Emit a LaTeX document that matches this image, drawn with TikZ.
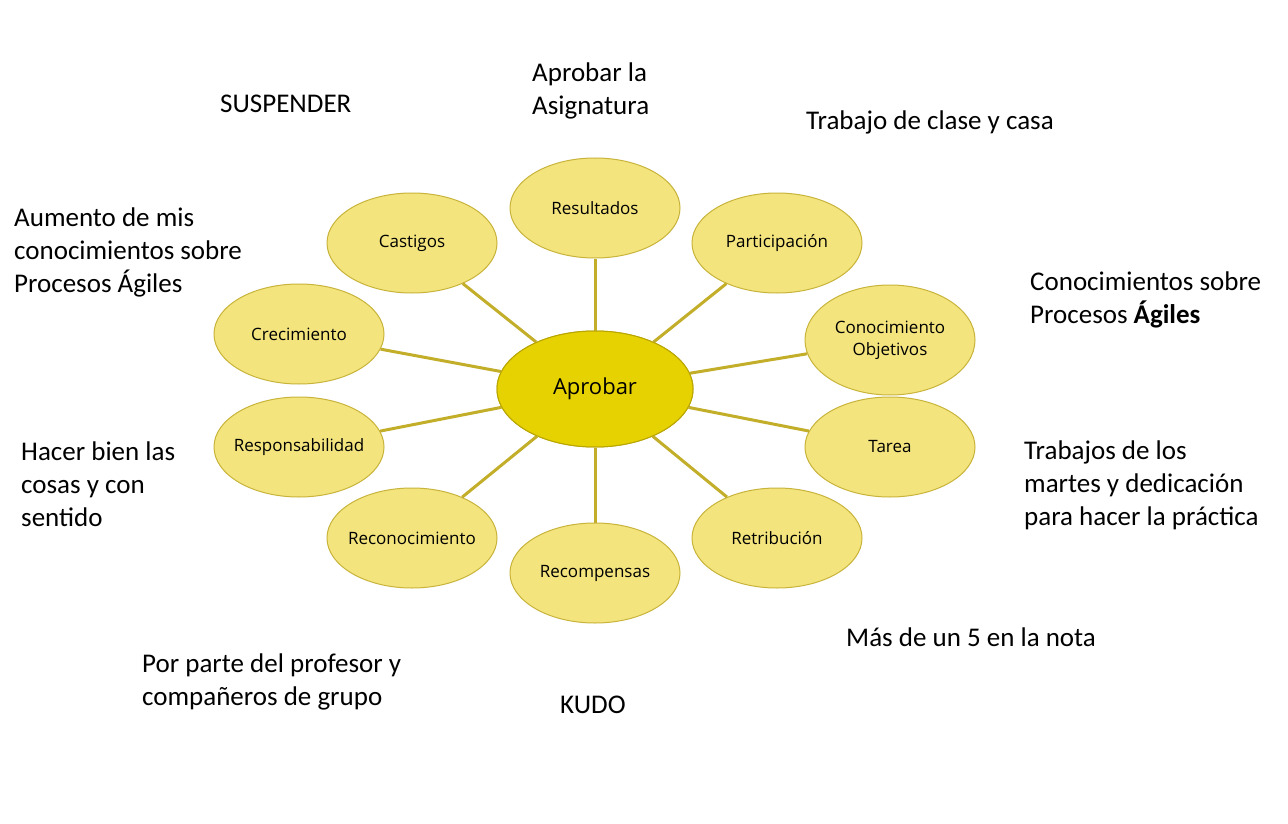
\documentclass[tikz,border=0pt]{standalone}
\usepackage{fontspec}
\setmainfont{Carlito}
\newfontfamily\nodefont{Open Sans}
\usetikzlibrary{shapes.geometric}
\definecolor{centerfill}{HTML}{E6D200}
\definecolor{centerdraw}{HTML}{B9A500}
\definecolor{outerfill}{HTML}{F3E47E}
\definecolor{outerdraw}{HTML}{C8B43A}
\definecolor{spoke}{HTML}{C3AE2A}
\begin{document}
\begin{tikzpicture}[x=1pt,y=-1pt,
  outer/.style={ellipse,draw=outerdraw,line width=1pt,fill=outerfill,minimum width=170pt,minimum height=100pt,inner xsep=-25pt,inner ysep=0pt,font=\nodefont\fontsize{17}{22}\selectfont,align=center},
  hub/.style={ellipse,draw=centerdraw,line width=1pt,fill=centerfill,minimum width=196pt,minimum height=116pt,inner sep=0pt,font=\nodefont\fontsize{22}{27}\selectfont},
  note/.style={anchor=west,align=left,inner sep=0pt,font=\fontsize{27}{33}\selectfont},
  spokeline/.style={draw=spoke,line width=3pt}]
\useasboundingbox[fill=white] (0,0) rectangle (1288,824);
\node[hub] (c) at (595,389) {Aprobar};
\node[outer] (res) at (595,208) {Resultados};
\node[outer] (cas) at (412,243) {Castigos};
\node[outer] (par) at (777,243) {Participación};
\node[outer] (cre) at (299,334) {Crecimiento};
\node[outer,minimum height=110pt] (con) at (890,340) {Conocimiento\\Objetivos};
\node[outer] (resp) at (299,447) {Responsabilidad};
\node[outer] (tar) at (890,447) {Tarea};
\node[outer] (rec) at (412,538) {Reconocimiento};
\node[outer] (recp) at (595,573) {Recompensas};
\node[outer] (ret) at (777,538) {Retribución};
\foreach \n in {res,cas,par,cre,con,resp,tar,rec,recp,ret}{
  \path[spokeline] (c) -- (\n);
}
\node[hub] at (c) {Aprobar};
\node[note] (t1) at (220,104) {SUSPENDER};
\node[note] (t2) at (532,91) {Aprobar la\\Asignatura};
\node[note] (t3) at (806,122) {Trabajo de clase y casa};
\node[note] (t4) at (14,252) {Aumento de mis\\conocimientos sobre\\Procesos Ágiles};
\node[note] (t5) at (1030,299.5) {Conocimientos sobre\\Procesos \textbf{Ágiles}};
\node[note] (t6) at (21,484.5) {Hacer bien las\\cosas y con\\sentido};
\node[note] (t7) at (1024,485.5) {Trabajos de los\\martes y dedicación\\para hacer la práctica};
\node[note] (t8) at (846,637.5) {Más de un 5 en la nota};
\node[note] (t9) at (142,682) {Por parte del profesor y\\compañeros de grupo};
\node[note] (t10) at (560,704.5) {KUDO};
\end{tikzpicture}
\end{document}
